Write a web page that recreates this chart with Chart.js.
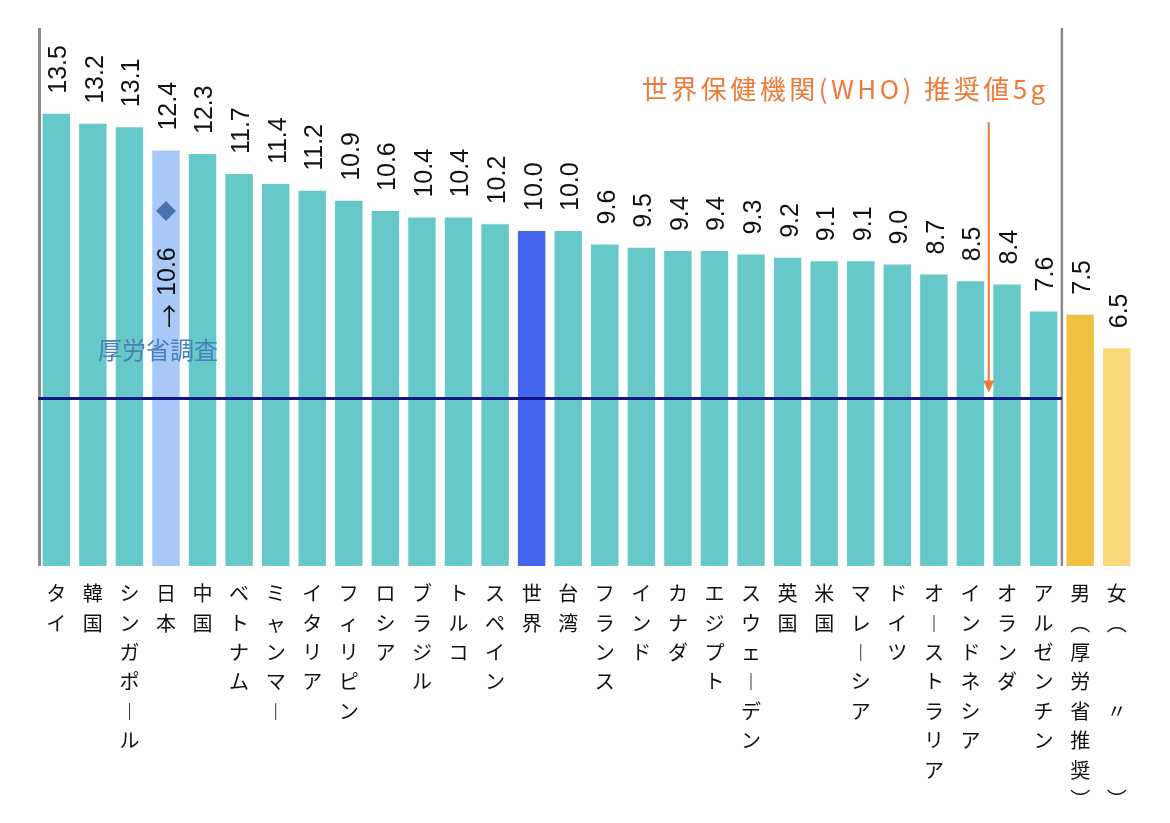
<!DOCTYPE html>
<html>
<head>
<meta charset="utf-8">
<script src="https://cdn.jsdelivr.net/npm/chart.js@4.4.1/dist/chart.umd.min.js"></script>
<style>
  html, body { margin: 0; padding: 0; background: #ffffff; }
  #wrap { width: 1170px; height: 823px; position: relative; }
</style>
</head>
<body>
<div id="wrap"><canvas id="c"></canvas></div>
<script>
// ---- data ----
const categories = ['タイ','韓国','シンガポール','日本','中国','ベトナム','ミャンマー','イタリア','フィリピン','ロシア','ブラジル','トルコ','スペイン','世界','台湾','フランス','インド','カナダ','エジプト','スウェーデン','英国','米国','マレーシア','ドイツ','オーストラリア','インドネシア','オランダ','アルゼンチン','男（厚労省推奨）','女（　　〃　　）'];
const saltIntake = [13.5,13.2,13.1,12.4,12.3,11.7,11.4,11.2,10.9,10.6,10.4,10.4,10.2,10.0,10.0,9.6,9.5,9.4,9.4,9.3,9.2,9.1,9.1,9.0,8.7,8.5,8.4,7.6,7.5,6.5];
const valueLabels = ['13.5','13.2','13.1','12.4','12.3','11.7','11.4','11.2','10.9','10.6','10.4','10.4','10.2','10.0','10.0','9.6','9.5','9.4','9.4','9.3','9.2','9.1','9.1','9.0','8.7','8.5','8.4','7.6','7.5','6.5'];
const japanCategory = '日本';
const worldCategory = '世界';
const maleCategory = '男（厚労省推奨）';
const femaleCategory = '女（　　〃　　）';
const mhlwSurveyJapan = 10.6;          // 厚労省調査
const mhlwSurveyLabel = '→10.6';
const mhlwSurveyText = '厚労省調査';
const whoRecommended = 5;             // WHO 推奨値 5g
const whoText = '世界保健機関(WHO) 推奨値5g';
const yMin = 0, yMax = 16;

// ---- styles ----
const TEAL = '#66c8c8', JAPAN = '#a8c8f8', WORLD = '#4466ee', MALE = '#f2c040', FEMALE = '#f8d878';

function barColor(ctx) {
  const lab = categories[ctx.dataIndex];
  if (lab === japanCategory) return JAPAN;
  if (lab === worldCategory) return WORLD;
  if (lab === maleCategory) return MALE;
  if (lab === femaleCategory) return FEMALE;
  return TEAL;
}

const surveyData = categories.map(c => c === japanCategory ? mhlwSurveyJapan : null);

const verticalMap = { 'ー': '︱', '（': '︵', '）': '︶' };

const annotPlugin = {
  id: 'annot',
  afterDatasetsDraw(chart) {
    const { ctx, chartArea, scales } = chart;
    const y = scales.y;
    const barMeta = chart.getDatasetMeta(1);
    const bars = barMeta.data;
    ctx.save();
    // left axis line
    ctx.strokeStyle = '#8a8a8a';
    ctx.lineWidth = 3;
    ctx.beginPath();
    ctx.moveTo(chartArea.left + 1.5, chartArea.top - 2);
    ctx.lineTo(chartArea.left + 1.5, chartArea.bottom);
    ctx.stroke();
    // divider between countries and Japan recommendation
    const iM = categories.indexOf(maleCategory);
    const divX = (bars[iM - 1].x + bars[iM].x) / 2;
    ctx.lineWidth = 2.5;
    ctx.beginPath();
    ctx.moveTo(divX, chartArea.top - 2);
    ctx.lineTo(divX, chartArea.bottom);
    ctx.stroke();
    // WHO line
    const yW = y.getPixelForValue(whoRecommended);
    ctx.strokeStyle = '#161682';
    ctx.lineWidth = 3;
    ctx.beginPath();
    ctx.moveTo(chartArea.left, yW);
    ctx.lineTo(divX, yW);
    ctx.stroke();
    // value labels
    ctx.fillStyle = '#111111';
    ctx.font = '25px "Liberation Sans", Arial, sans-serif';
    ctx.textAlign = 'left';
    ctx.textBaseline = 'middle';
    bars.forEach((b, i) => {
      ctx.save();
      ctx.translate(b.x + 3, b.y - 20);
      ctx.rotate(-Math.PI / 2);
      ctx.fillText(valueLabels[i], 0, 0);
      ctx.restore();
    });
    // Japan survey annotation
    const iJ = categories.indexOf(japanCategory);
    const pt = chart.getDatasetMeta(0).data[iJ];
    ctx.save();
    ctx.translate(pt.x + 2, pt.y + 117);
    ctx.rotate(-Math.PI / 2);
    ctx.textAlign = 'left';
    const arrowCh = mhlwSurveyLabel.charAt(0);
    const numTxt = mhlwSurveyLabel.slice(1);
    ctx.font = '24px "Noto Sans CJK JP", sans-serif';
    ctx.fillText(arrowCh, 0, 1);
    const aw = ctx.measureText(arrowCh).width;
    ctx.font = '25px "Liberation Sans", Arial, sans-serif';
    ctx.fillText(numTxt, aw + 8, 0);
    ctx.restore();
    ctx.fillStyle = '#4a80b8';
    ctx.font = '24px "Noto Sans CJK JP", sans-serif';
    ctx.textAlign = 'center';
    ctx.fillText(mhlwSurveyText, pt.x - 8, y.getPixelForValue(6.45));
    // WHO annotation
    const i25 = categories.indexOf('インドネシア');
    const arrowX = (bars[i25].x + bars[i25 + 1].x) / 2;
    const yTop = y.getPixelForValue(13.25);
    const tipY = yW - 6;
    ctx.strokeStyle = '#ee7a3a';
    ctx.fillStyle = '#ee7a3a';
    ctx.lineWidth = 2;
    ctx.beginPath();
    ctx.moveTo(arrowX, yTop);
    ctx.lineTo(arrowX, tipY - 8);
    ctx.stroke();
    ctx.beginPath();
    ctx.moveTo(arrowX - 5.5, tipY - 12);
    ctx.lineTo(arrowX + 5.5, tipY - 12);
    ctx.lineTo(arrowX, tipY);
    ctx.closePath();
    ctx.fill();
    ctx.font = '26px "Noto Sans CJK JP", sans-serif';
    try { ctx.letterSpacing = '3.5px'; } catch (e) {}
    ctx.textAlign = 'right';
    ctx.textBaseline = 'middle';
    ctx.fillText(whoText, arrowX + 60, y.getPixelForValue(14.25));
    ctx.restore();
  }
};

new Chart(document.getElementById('c'), {
  data: {
    labels: categories,
    datasets: [
      {
        type: 'line',
        label: mhlwSurveyText,
        data: surveyData,
        showLine: false,
        pointStyle: 'rectRot',
        pointRadius: 10,
        pointBackgroundColor: '#4a72b0',
        pointBorderColor: '#4a72b0',
        pointBorderWidth: 0,
        order: 0
      },
      {
        type: 'bar',
        label: '食塩摂取量',
        data: saltIntake,
        backgroundColor: barColor,
        borderWidth: 0,
        categoryPercentage: 1.0,
        barPercentage: 0.75,
        order: 1
      }
    ]
  },
  options: {
    responsive: true,
    maintainAspectRatio: false,
    animation: false,
    layout: { padding: { top: 30, left: 38, right: 35, bottom: 0 } },
    plugins: { legend: { display: false }, tooltip: { enabled: false } },
    scales: {
      y: { display: false, min: yMin, max: yMax },
      x: {
        grid: { display: false },
        border: { display: false },
        afterFit(scale) { scale.height = 257; },
        ticks: {
          autoSkip: false,
          maxRotation: 0,
          minRotation: 0,
          padding: 5,
          color: '#111111',
          font: { family: '"Noto Sans CJK JP", sans-serif', size: 20, lineHeight: 1.47 },
          callback(value, index) {
            return Array.from(categories[index]).map(ch => verticalMap[ch] || ch);
          }
        }
      }
    }
  },
  plugins: [annotPlugin]
});
</script>
</body>
</html>
